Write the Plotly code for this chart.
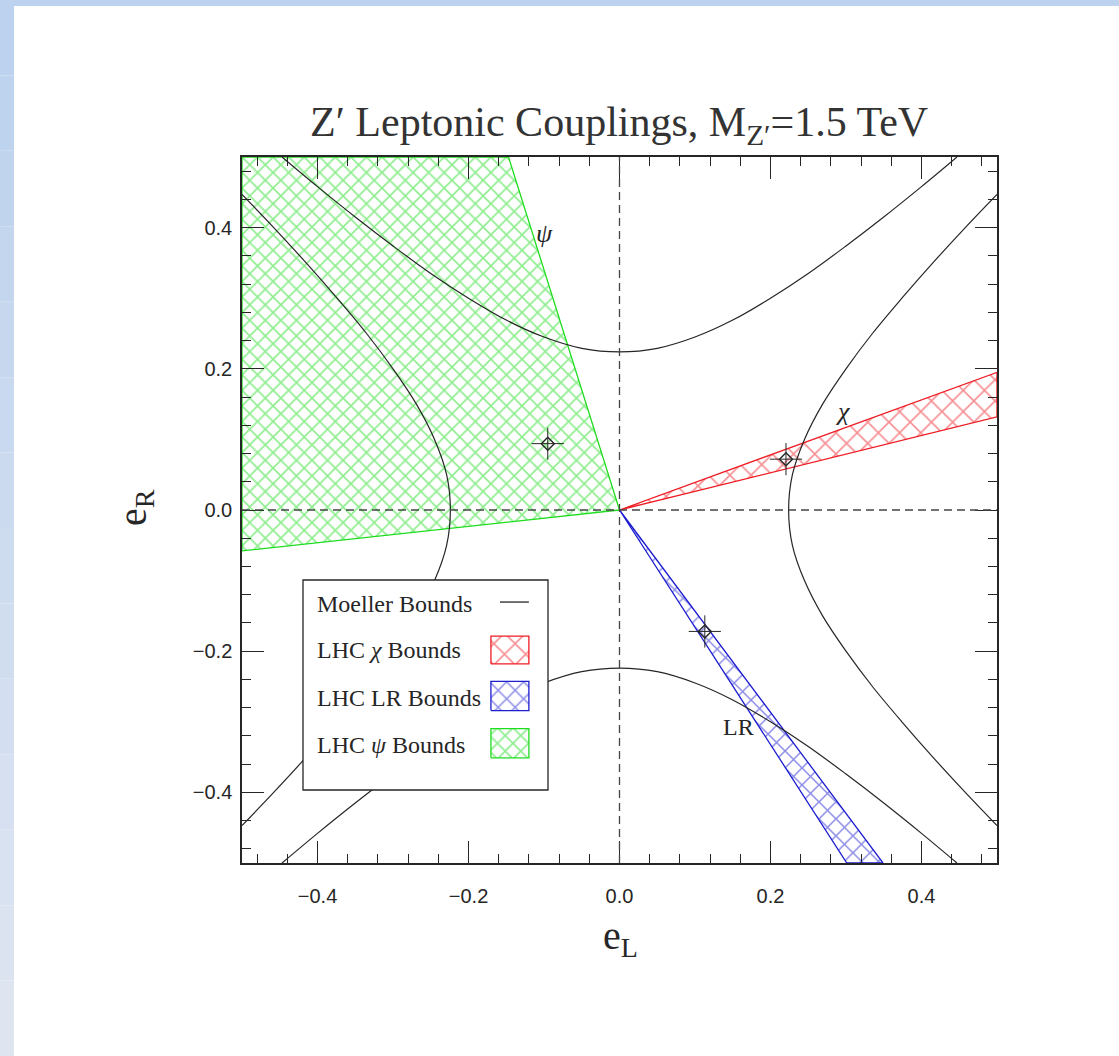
import plotly.graph_objects as go

# ---------------- data ----------------
# Moeller bounds (four hyperbola branches)
upper_x = [-0.447, -0.40, -0.35, -0.30, -0.25, -0.20, -0.15, -0.10, -0.05, 0.00,
           0.05, 0.10, 0.15, 0.20, 0.25, 0.30, 0.35, 0.40, 0.447]
upper_y = [0.500, 0.458, 0.415, 0.374, 0.335, 0.300, 0.269, 0.245, 0.229, 0.224,
           0.229, 0.245, 0.269, 0.300, 0.335, 0.374, 0.415, 0.458, 0.500]
lower_x = [-0.447, -0.40, -0.35, -0.30, -0.25, -0.20, -0.15, -0.10, -0.05, 0.00,
           0.05, 0.10, 0.15, 0.20, 0.25, 0.30, 0.35, 0.40, 0.447]
lower_y = [-0.500, -0.458, -0.415, -0.374, -0.335, -0.300, -0.269, -0.245, -0.229, -0.224,
           -0.229, -0.245, -0.269, -0.300, -0.335, -0.374, -0.415, -0.458, -0.500]
right_x = [0.500, 0.458, 0.415, 0.374, 0.335, 0.300, 0.269, 0.245, 0.229, 0.224,
           0.229, 0.245, 0.269, 0.300, 0.335, 0.374, 0.415, 0.458, 0.500]
right_y = [-0.447, -0.40, -0.35, -0.30, -0.25, -0.20, -0.15, -0.10, -0.05, 0.00,
           0.05, 0.10, 0.15, 0.20, 0.25, 0.30, 0.35, 0.40, 0.447]
left_x = [-0.500, -0.458, -0.415, -0.374, -0.335, -0.300, -0.269, -0.245, -0.229, -0.224,
          -0.229, -0.245, -0.269, -0.300, -0.335, -0.374, -0.415, -0.458, -0.500]
left_y = [-0.447, -0.40, -0.35, -0.30, -0.25, -0.20, -0.15, -0.10, -0.05, 0.00,
          0.05, 0.10, 0.15, 0.20, 0.25, 0.30, 0.35, 0.40, 0.447]

# LHC bound regions
psi_x = [0.0, -0.147, -0.5, -0.5, 0.0]
psi_y = [0.0, 0.5, 0.5, -0.058, 0.0]
chi_x = [0.0, 0.5, 0.5, 0.0]
chi_y = [0.0, 0.195, 0.132, 0.0]
lr_x = [0.0, 0.301, 0.349, 0.0]
lr_y = [0.0, -0.5, -0.5, 0.0]

# model points (stars): psi, chi, LR
star_x = [-0.095, 0.2205, 0.113]
star_y = [0.094, 0.072, -0.172]

legend_labels = ["Moeller Bounds", "LHC <i>χ</i> Bounds", "LHC LR Bounds", "LHC <i>ψ</i> Bounds"]
title_text = "Z′ Leptonic Couplings, M<sub>Z′</sub>=1.5 TeV"

# ---------------- figure geometry ----------------
W, H = 1119, 1056
L, R, T, B = 242, 122, 157, 193
PW, PH = W - L - R, H - T - B


def px(xp):
    return (xp - L) / PW


def py(yp):
    return (H - B - yp) / PH


GREEN = "#1fdc1f"
RED = "#ee1c24"
BLUE = "#1c1cd0"
INK = "#262626"
SERIF = "Liberation Serif"
SANS = "Liberation Sans"

fig = go.Figure()


def hatch_region(xs, ys, color, size, xa="x", ya="y", lw=1.3, sol=0.22):
    return go.Scatter(
        x=xs, y=ys, mode="lines", fill="toself",
        line=dict(color=color, width=lw),
        fillcolor="rgba(255,255,255,0)",
        fillpattern=dict(shape="x", fgcolor=color, bgcolor="rgba(255,255,255,0)",
                         size=size, solidity=sol),
        xaxis=xa, yaxis=ya, hoverinfo="skip", showlegend=False,
    )


fig.add_trace(hatch_region(psi_x, psi_y, GREEN, 11, sol=0.28))
fig.add_trace(hatch_region(chi_x, chi_y, RED, 15, sol=0.2))
fig.add_trace(hatch_region(lr_x, lr_y, BLUE, 12, sol=0.24))

for bx, by in [(upper_x, upper_y), (lower_x, lower_y), (right_x, right_y), (left_x, left_y)]:
    fig.add_trace(go.Scatter(x=bx, y=by, mode="lines", line=dict(color=INK, width=1.2, shape="spline"),
                             hoverinfo="skip", showlegend=False))

fig.add_trace(go.Scatter(x=star_x, y=star_y, mode="markers",
                         marker=dict(symbol="cross-thin-open", size=23, color=INK,
                                     line=dict(color="#444", width=1)),
                         showlegend=False, hoverinfo="skip"))
fig.add_trace(go.Scatter(x=star_x, y=star_y, mode="markers",
                         marker=dict(symbol="diamond-open", size=10, color=INK,
                                     line=dict(color=INK, width=1.4)),
                         showlegend=False, hoverinfo="skip"))

# ---------------- hand-drawn legend (own subplot) ----------------
lb_x0, lb_x1, lb_y0, lb_y1 = 303, 548, 580, 790
fig.add_trace(go.Scatter(x=[0, 1, 1, 0, 0], y=[0, 0, 1, 1, 0], mode="lines", fill="toself",
                         fillcolor="white", line=dict(width=0), xaxis="x2", yaxis="y2",
                         hoverinfo="skip", showlegend=False))
fig.add_trace(go.Scatter(x=[0.804, 0.922], y=[0.895, 0.895], mode="lines",
                         line=dict(color=INK, width=1.3), xaxis="x2", yaxis="y2",
                         hoverinfo="skip", showlegend=False))
sw_rows = [(RED, 15, 0.601, 0.733, 0.2), (BLUE, 12, 0.378, 0.517, 0.24), (GREEN, 11, 0.153, 0.292, 0.28)]
for col, sz, y0, y1, sol in sw_rows:
    fig.add_trace(hatch_region([0.767, 0.922, 0.922, 0.767, 0.767], [y0, y0, y1, y1, y0],
                               col, sz, xa="x2", ya="y2", lw=1.3, sol=sol))

text_y = [0.885, 0.665, 0.44, 0.215]
annotations = []
for lab, ty in zip(legend_labels, text_y):
    annotations.append(dict(x=0.049, y=ty, xref="x2", yref="y2", text=lab, showarrow=False,
                            xanchor="left", yanchor="middle",
                            font=dict(family=SERIF, size=24, color=INK)))

# curve labels
annotations += [
    dict(x=-0.099, y=0.392, text="<i>ψ</i>", showarrow=False, xanchor="center", yanchor="middle",
         font=dict(family=SERIF, size=26, color=INK)),
    dict(x=0.296, y=0.140, text="<i>χ</i>", showarrow=False, xanchor="center", yanchor="middle",
         font=dict(family=SERIF, size=26, color=INK)),
    dict(x=0.157, y=-0.307, text="LR", showarrow=False, xanchor="center", yanchor="middle",
         font=dict(family=SERIF, size=24, color=INK)),
]
# axis titles
annotations += [
    dict(x=px(135), y=py(508), xref="paper", yref="paper", text="e<sub>R</sub>", textangle=-90,
         xanchor="center", yanchor="middle",
         showarrow=False, font=dict(family=SERIF, size=40, color=INK)),
    dict(x=px(620), y=py(938), xref="paper", yref="paper", text="e<sub>L</sub>",
         xanchor="center", yanchor="middle",
         showarrow=False, font=dict(family=SERIF, size=40, color=INK)),
    dict(x=px(619), y=py(125), xref="paper", yref="paper", text=title_text, showarrow=False,
         xanchor="center", yanchor="middle", font=dict(family=SERIF, size=42, color="#333")),
]

shapes = []
# slide-like background strips
n_band = 14
for i in range(n_band):
    t = i / (n_band - 1)
    r = int(188 + (222 - 188) * t)
    g = int(210 + (229 - 210) * t)
    b = int(238 + (241 - 238) * t)
    shapes.append(dict(type="rect", xref="paper", yref="paper", layer="below",
                       x0=px(0), x1=px(14), y0=py(H * (i + 1) / n_band), y1=py(H * i / n_band),
                       fillcolor=f"rgb({r},{g},{b})", line=dict(width=0)))
shapes.append(dict(type="rect", xref="paper", yref="paper", layer="below",
                   x0=px(0), x1=px(W), y0=py(6), y1=py(0),
                   fillcolor="rgb(188,210,238)", line=dict(width=0)))
# dashed zero lines
shapes.append(dict(type="line", xref="x", yref="y domain", x0=0, x1=0, y0=0, y1=1,
                   line=dict(color="#444", width=1.3, dash="8px,5px"), layer="above"))
shapes.append(dict(type="line", xref="x domain", yref="y", x0=0, x1=1, y0=0, y1=0,
                   line=dict(color="#444", width=1.3, dash="8px,5px"), layer="above"))
# legend border
shapes.append(dict(type="rect", xref="paper", yref="paper", layer="above",
                   x0=px(lb_x0), x1=px(lb_x1), y0=py(lb_y1), y1=py(lb_y0),
                   line=dict(color=INK, width=1.3)))

axis_common = dict(
    range=[-0.5, 0.5], tick0=0, dtick=0.2, tickformat=".1f",
    ticks="inside", ticklen=22, tickwidth=1.1, tickcolor=INK,
    minor=dict(ticks="inside", tick0=0, dtick=0.04, ticklen=9, tickwidth=1.1, tickcolor=INK),
    showline=True, linecolor=INK, linewidth=1.5, mirror="allticks",
    showgrid=False, zeroline=False,
    tickfont=dict(family=SANS, size=20, color=INK),
)

fig.update_layout(
    width=W, height=H, autosize=False,
    margin=dict(l=L, r=R, t=T, b=B, pad=0),
    paper_bgcolor="white", plot_bgcolor="white",
    showlegend=False,
    xaxis=dict(**axis_common, domain=[0, 1], anchor="y", ticklabelstandoff=14),
    yaxis=dict(**axis_common, domain=[0, 1], anchor="x", ticklabelstandoff=4),
    xaxis2=dict(domain=[px(lb_x0), px(lb_x1)], range=[0, 1], visible=False, anchor="y2", fixedrange=True),
    yaxis2=dict(domain=[py(lb_y1), py(lb_y0)], range=[0, 1], visible=False, anchor="x2", fixedrange=True),
    annotations=annotations,
    shapes=shapes,
)

fig.write_html("out.html")
